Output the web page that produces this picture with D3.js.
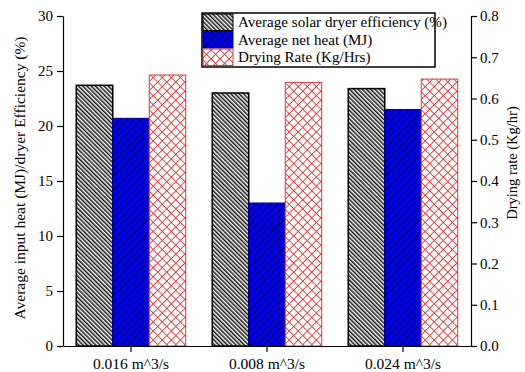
<!DOCTYPE html>
<html>
<head>
<meta charset="utf-8">
<script src="https://cdn.jsdelivr.net/npm/d3@7"></script>
<style>
  body { margin: 0; background: #fff; }
  text { font-family: "Liberation Serif", "DejaVu Serif", serif; }
</style>
</head>
<body>
<div id="chart"></div>
<script>
var categories = ["0.016 m^3/s", "0.008 m^3/s", "0.024 m^3/s"];
var efficiency = [23.7, 23.0, 23.4];
var netHeat = [20.7, 13.0, 21.5];
var dryingRate = [0.657, 0.639, 0.647];
var leftTicks = [0, 5, 10, 15, 20, 25, 30];
var rightTicks = [0, 0.1, 0.2, 0.3, 0.4, 0.5, 0.6, 0.7, 0.8];
var seriesNames = ["Average solar dryer efficiency (%)", "Average net heat (MJ)", "Drying Rate (Kg/Hrs)"];

var width = 525, height = 372;
var margin = {top: 16, right: 54, bottom: 26, left: 63};

var svg = d3.select("#chart").append("svg")
  .attr("width", width)
  .attr("height", height);

// patterns
var defs = svg.append("defs");

var p1 = defs.append("pattern")
  .attr("id", "hatchBlack")
  .attr("patternUnits", "userSpaceOnUse")
  .attr("width", 3).attr("height", 3)
  .attr("patternTransform", "rotate(-45)");
p1.append("rect").attr("width", 3).attr("height", 3).attr("fill", "#fff");
p1.append("rect").attr("width", 1.5).attr("height", 3).attr("fill", "#111");

var p2 = defs.append("pattern")
  .attr("id", "hatchBlue")
  .attr("patternUnits", "userSpaceOnUse")
  .attr("width", 5).attr("height", 5)
  .attr("patternTransform", "rotate(45)");
p2.append("rect").attr("width", 5).attr("height", 5).attr("fill", "#0000f0");
p2.append("rect").attr("width", 0.9).attr("height", 5).attr("fill", "#000030");

var p3 = defs.append("pattern")
  .attr("id", "hatchRed")
  .attr("patternUnits", "userSpaceOnUse")
  .attr("width", 6.4).attr("height", 6.4)
  .attr("patternTransform", "rotate(45)");
p3.append("rect").attr("width", 6.4).attr("height", 6.4).attr("fill", "#fff");
p3.append("rect").attr("width", 0.9).attr("height", 6.4).attr("fill", "#d83a3a");
p3.append("rect").attr("width", 6.4).attr("height", 0.9).attr("fill", "#d83a3a");

var fills = ["url(#hatchBlack)", "url(#hatchBlue)", "url(#hatchRed)"];
var strokes = ["#000", "#00008a", "#d83a3a"];

var x = d3.scaleBand()
  .domain(categories)
  .range([margin.left, width - margin.right])
  .paddingInner(0)
  .paddingOuter(0);

var groupW = x.bandwidth() * 0.805;
var x1 = d3.scaleBand()
  .domain([0, 1, 2])
  .range([0, groupW]);

var yL = d3.scaleLinear().domain([0, 30]).range([height - margin.bottom, margin.top]);
var yR = d3.scaleLinear().domain([0, 0.8]).range([height - margin.bottom, margin.top]);

var rows = categories.map(function(c, i) {
  return [
    {cat: c, s: 0, y: yL(efficiency[i])},
    {cat: c, s: 1, y: yL(netHeat[i])},
    {cat: c, s: 2, y: yR(dryingRate[i])}
  ];
});

var groups = svg.selectAll("g.grp")
  .data(rows)
  .enter().append("g")
  .attr("class", "grp")
  .attr("transform", function(d, i) {
    return "translate(" + (x(categories[i]) + (x.bandwidth() - groupW) / 2) + ",0)";
  });

groups.selectAll("rect")
  .data(function(d) { return d; })
  .enter().append("rect")
  .attr("x", function(d) { return x1(d.s); })
  .attr("width", x1.bandwidth())
  .attr("y", function(d) { return d.y; })
  .attr("height", function(d) { return height - margin.bottom - d.y; })
  .attr("fill", function(d) { return fills[d.s]; })
  .attr("stroke", function(d) { return strokes[d.s]; })
  .attr("stroke-width", function(d) { return d.s == 0 ? 1.5 : 1; });

// axes
var xAxis = svg.append("g")
  .attr("transform", "translate(0," + (height - margin.bottom) + ")")
  .call(d3.axisBottom(x).tickSize(6).tickSizeOuter(0));

var leftAxis = svg.append("g")
  .attr("transform", "translate(" + margin.left + ",0)")
  .call(d3.axisLeft(yL).tickValues(leftTicks).tickSize(6).tickSizeOuter(0).tickPadding(4));

var rightAxis = svg.append("g")
  .attr("transform", "translate(" + (width - margin.right) + ",0)")
  .call(d3.axisRight(yR).tickValues(rightTicks).tickFormat(d3.format(".1f")).tickSize(6).tickSizeOuter(0).tickPadding(3));

[xAxis, leftAxis, rightAxis].forEach(function(a) {
  a.selectAll("path, line").attr("stroke", "#000").attr("stroke-width", 1.2);
  a.selectAll("text").attr("fill", "#000").style("font-size", "15px")
    .style("font-family", "'Liberation Serif', serif");
});
xAxis.selectAll("text").attr("dy", "0.9em").style("font-size", "15.5px");

// axis titles
svg.append("text")
  .attr("transform", "translate(25,178) rotate(-90)")
  .attr("text-anchor", "middle")
  .style("font-size", "15.5px")
  .text("Average input heat (MJ)/dryer Efficiency (%)");

svg.append("text")
  .attr("transform", "translate(517,163) rotate(-90)")
  .attr("text-anchor", "middle")
  .style("font-size", "14.5px")
  .text("Drying rate (Kg/hr)");

// legend
var legend = svg.append("g").attr("transform", "translate(202,13)");
legend.append("rect")
  .attr("width", 233).attr("height", 54)
  .attr("fill", "#fff").attr("stroke", "#000").attr("stroke-width", 1.5);

seriesNames.forEach(function(name, i) {
  legend.append("rect")
    .attr("x", 1).attr("y", 1 + i * 17.5)
    .attr("width", 30).attr("height", 16.5)
    .attr("fill", fills[i])
    .attr("stroke", strokes[i]).attr("stroke-width", 1);
  legend.append("text")
    .attr("x", 36).attr("y", 14 + i * 17.5)
    .style("font-size", "15.1px")
    .text(name);
});
</script>
</body>
</html>
